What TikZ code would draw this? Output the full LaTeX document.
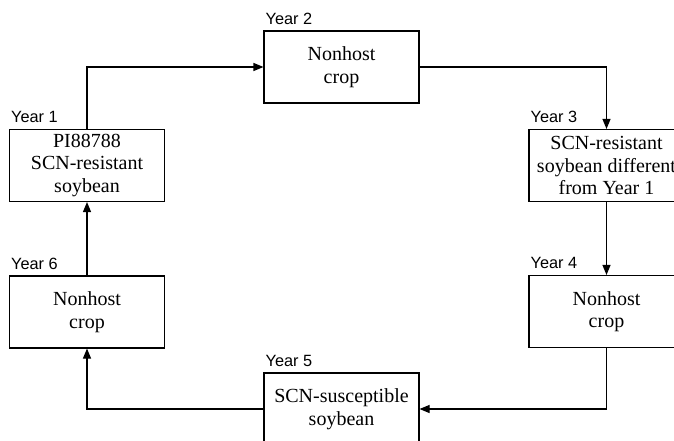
\documentclass[tikz,border=0pt]{standalone}
\usepackage{fontspec}
\setmainfont{Liberation Serif}
\newfontfamily\labelfont{Liberation Sans}
\usetikzlibrary{arrows.meta}
\begin{document}
\begin{tikzpicture}[x=1pt,y=-1pt,
  cropbox/.style={draw, line width=1.1pt, minimum width=155pt, minimum height=72pt, inner sep=0pt, align=center, font=\fontsize{20}{22.5}\selectfont},
  yearlabel/.style={anchor=base west, inner sep=0pt, font=\labelfont\fontsize{16.3}{18}\selectfont},
  flow/.style={line width=1.1pt, -{Triangle[length=10pt,width=8pt]}}]
\useasboundingbox (0,0) rectangle (674,441);
\clip (0,0) rectangle (674,441);
\node[cropbox] (y1) at (87,165.5) {PI88788\\SCN-resistant\\soybean};
\node[cropbox] (y2) at (341.5,67) {Nonhost\\crop};
\node[cropbox] (y3) at (606.5,165.5) {SCN-resistant\\soybean different\\from Year 1};
\node[cropbox] (y4) at (606.5,311.5) {Nonhost\\crop};
\node[cropbox] (y5) at (341.5,409) {SCN-susceptible\\soybean};
\node[cropbox] (y6) at (87,312) {Nonhost\\crop};
\node[yearlabel] (l1) at ([shift={(2,-6)}]y1.north west) {Year 1};
\node[yearlabel] (l2) at ([shift={(2,-6)}]y2.north west) {Year 2};
\node[yearlabel] (l3) at ([shift={(2,-6)}]y3.north west) {Year 3};
\node[yearlabel] (l4) at ([shift={(2,-6)}]y4.north west) {Year 4};
\node[yearlabel] (l5) at ([shift={(2,-6)}]y5.north west) {Year 5};
\node[yearlabel] (l6) at ([shift={(2,-6)}]y6.north west) {Year 6};
\draw[flow] (y1.north) |- (y2.west);
\draw[flow] (y2.east) -| (y3.north);
\draw[flow] (y3.south) -- (y4.north);
\draw[flow] (y4.south) |- (y5.east);
\draw[flow] (y5.west) -| (y6.south);
\draw[flow] (y6.north) -- (y1.south);
\end{tikzpicture}
\end{document}
